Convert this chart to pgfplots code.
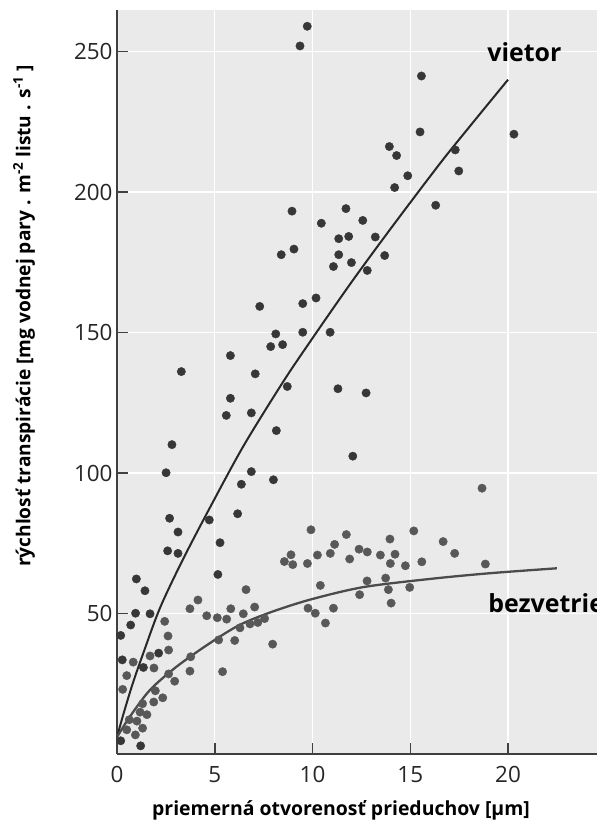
\documentclass[border=0pt]{standalone}
\usepackage{fontspec}
\setmainfont{Open Sans}
\usepackage{pgfplots}
\pgfplotsset{compat=1.18}
\definecolor{bg}{RGB}{234,234,234}
\definecolor{dv}{RGB}{55,55,55}
\definecolor{db}{RGB}{88,88,88}
\definecolor{lv}{RGB}{40,40,40}
\definecolor{lb}{RGB}{75,75,75}
\begin{document}
\begin{tikzpicture}[x=1bp,y=1bp]
\path[use as bounding box] (0,0) rectangle (597,820);
\begin{axis}[
  at={(117bp,66bp)}, anchor=south west,
  width=480bp, height=744bp, scale only axis,
  xmin=0, xmax=24.55, ymin=0, ymax=264.8,
  axis x line*=bottom, axis y line*=left,
  axis line style={line width=1.5bp, color=black!75},
  axis background/.style={fill=bg},
  grid=major, grid style={white, line width=1.3bp},
  xtick={0,5,10,15,20}, ytick={50,100,150,200,250},
  tick align=inside,
  major tick length=11bp,
  tick style={line width=1.5bp, color=black!75},
  ticklabel style={font=\fontsize{22.5}{26}\selectfont, text=black!85},
  xticklabel style={yshift=-9bp},
  yticklabel style={xshift=-1bp},
  /pgf/number format/assume math mode=true,
  clip=true,
]
\addplot[only marks, mark=*, mark size=4.2pt, mark options={fill=db, draw=db}] coordinates {
(2.44,47.2)(2.61,42)(2.64,37)(1.69,34.9)(0.83,32.7)(1.89,30.6)(0.5,27.9)(2.64,28.5)
(2.95,25.9)(0.29,23)(1.96,22.5)(2.34,20)(1.88,18.5)(1.31,17.9)(1.18,14.9)(1.53,14)
(0.63,12.2)(1.02,11.7)(0.5,8.6)(1.31,9.2)(0.94,6.8)(3.73,51.7)(4.14,54.8)(4.59,49.2)
(5.13,48.5)(5.61,48)(5.82,51.7)(6.6,58.5)(6.46,49.9)(7.04,52.3)(6.29,44.9)(6.8,46.3)
(7.2,46.8)(7.55,48.2)(5.2,40.6)(6.02,40.4)(7.96,39.1)(3.77,34.6)(3.73,29.5)(5.4,29.3)
(8.56,68.5)(8.9,70.9)(8.99,67.4)
(9.92,79.8)(11.73,78.1)(15.18,79.4)(13.96,76.5)(11.13,74.6)(9.74,67.8)(10.25,70.8)
(10.91,71.4)(11.9,69.4)(12.38,72.9)(12.8,71.9)(13.47,70.8)(14.22,71.1)(13.98,67.8)
(14.75,67)(15.59,68.4)(10.4,60)(12.79,61.6)(13.74,62.6)(12.41,56.7)(13.88,58.5)
(14.97,59.3)(14.02,53.7)(9.77,51.9)(10.14,50.1)(11.07,51.9)(10.66,46.6)
(16.68,75.6)(17.27,71.4)(18.84,67.6)(18.67,94.6)
};
\addplot[only marks, mark=*, mark size=4.2pt, mark options={fill=dv, draw=dv}] coordinates {
(9.73,259)(9.36,252)(15.57,241.3)(15.5,221.4)(20.3,220.6)(13.93,216.2)(14.3,213)
(17.3,215)(14.87,205.8)(17.48,207.5)(14.2,201.6)(16.3,195.3)(8.95,193.2)(11.71,194.1)
(10.45,188.9)(12.57,189.9)(11.34,183.4)(11.85,184.2)(13.21,184)(9.05,179.7)(8.4,177.7)
(11.34,177.7)(13.69,177.4)(11.07,173.5)(11.99,174.9)(12.8,172.1)(9.5,160.3)(10.18,162.3)
(9.5,150.1)(10.9,150.1)(8.47,145.7)(8.71,130.8)(11.3,130)(12.74,128.5)(12.06,106)
(7.3,159.3)(8.12,149.5)(7.86,145)(5.8,141.8)(3.29,136.1)(7.07,135.3)(5.8,126.6)
(5.59,120.5)(6.87,121.4)(8.15,115.1)(2.81,110.1)(2.51,100.1)(6.87,100.5)(6.36,96)
(8.0,97.6)(2.69,83.9)(4.72,83.3)(6.17,85.5)(3.12,79)(2.59,72.3)(3.12,71.4)(5.27,75.2)
(5.16,63.9)(0.99,62.3)(1.43,58.1)(0.95,50.1)(1.69,49.9)(0.7,45.9)(0.19,42.2)(0.27,33.5)
(2.13,35.9)(1.35,30.8)(0.19,4.7)(1.21,2.9)
};
\addplot[smooth, line width=2bp, color=lv] coordinates {
(0,6)(0.32,14)(0.8,25)(1.35,36)(2.2,52)(3.39,69.5)(4.93,90)(6.5,110)(8.5,132.5)
(10,148)(12,168)(14,187)(16.5,210)(18,223)(20,240)
};
\addplot[smooth, line width=2.3bp, color=lb] coordinates {
(0,6)(0.66,13.3)(1.69,22.8)(3.05,31.1)(4.76,39.5)(6.29,46)(8,50.8)(9.96,55.1)
(12.6,59.4)(16,62.3)(19,64.3)(22.5,66.1)
};
\node[anchor=base west, font=\bfseries\fontsize{25}{30}\selectfont, inner sep=0pt] at (axis cs:18.93,246.3) {vietor};
\node[anchor=base west, font=\bfseries\fontsize{25}{30}\selectfont, inner sep=0pt] at (axis cs:18.98,50.2) {bezvetrie};
\end{axis}
\node[rotate=90, font=\bfseries\fontsize{19.2}{23}\selectfont, inner sep=0pt] at (24,504) {rýchlosť transpirácie [mg vodnej pary . m\textsuperscript{-2} listu . s\textsuperscript{-1} ]};
\node[font=\bfseries\fontsize{19.5}{23}\selectfont, inner sep=0pt] at (341,10) {priemerná otvorenosť prieduchov [µm]};
\end{tikzpicture}
\end{document}
